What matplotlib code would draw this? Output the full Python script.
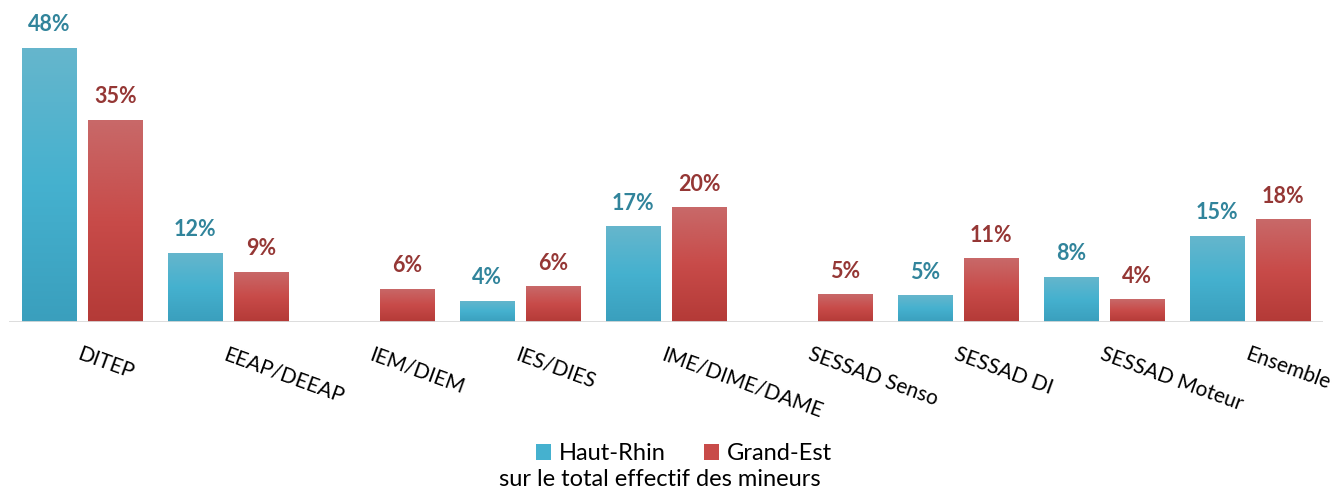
import numpy as np
import matplotlib
matplotlib.use("Agg")
import matplotlib.pyplot as plt
from matplotlib.colors import LinearSegmentedColormap
from matplotlib.patches import Patch

categories = ["DITEP", "EEAP/DEEAP", "IEM/DIEM", "IES/DIES", "IME/DIME/DAME",
              "SESSAD Senso", "SESSAD DI", "SESSAD Moteur", "Ensemble"]
haut_rhin = [48.0, 12.1, np.nan, 3.7, 16.8, np.nan, 4.7, 7.9, 15.1]
grand_est = [35.4, 8.8, 5.8, 6.3, 20.1, 4.9, 11.2, 4.0, 18.0]
series_names = ["Haut-Rhin", "Grand-Est"]
xlabel = "sur le total effectif des mineurs"

plt.rcParams['font.family'] = ['Lato', 'DejaVu Sans']

fig = plt.figure(figsize=(13.39, 4.95), dpi=100)
ax = fig.add_axes([9/1339, 1 - 322/495, 1314/1339, 322/495])

x = np.arange(len(categories))
w = 0.37
off = 0.228

blue_grad = ["#3A9FBD", "#45B1CF", "#66B6CC"]  # bottom -> top
red_grad = ["#B43A37", "#C84B49", "#C86969"]
blue_cmap = LinearSegmentedColormap.from_list("b", blue_grad)
red_cmap = LinearSegmentedColormap.from_list("r", red_grad)
label_cols = ["#31849B", "#953735"]

grad = np.linspace(0, 1, 256).reshape(-1, 1)

for vals, dx, cmap, lc in [(haut_rhin, -off, blue_cmap, label_cols[0]),
                           (grand_est, off, red_cmap, label_cols[1])]:
    v = np.array(vals, dtype=float)
    bars = ax.bar(x + dx, np.nan_to_num(v), width=w, color=cmap(0.5),
                  edgecolor='none', zorder=2)
    for b, val in zip(bars, v):
        if np.isnan(val):
            b.set_visible(False)
            continue
        x0, y0 = b.get_x(), b.get_y()
        im = ax.imshow(grad, cmap=cmap, origin='lower', aspect='auto',
                       extent=[x0, x0 + b.get_width(), y0, y0 + b.get_height()],
                       zorder=3)
        im.set_clip_path(b)
        ax.annotate(f"{val:.0f}%", (b.get_x() + b.get_width()/2, val),
                    xytext=(0, 9), textcoords='offset points',
                    ha='center', va='bottom', fontsize=15.5, fontweight='bold',
                    color=lc)

ax.set_xlim(-0.5, len(categories) - 0.5)
ax.set_ylim(0, 322/5.71)
ax.axhline(0, color='#D9D9D9', lw=2, zorder=4)

for s in ax.spines.values():
    s.set_visible(False)
ax.set_yticks([])
ax.set_xticks(x)
ax.set_xticklabels(categories, rotation=-20, ha='left', va='top',
                   rotation_mode='anchor', fontsize=15, color='black')
ax.tick_params(axis='x', length=0, pad=16)

handles = [Patch(facecolor=blue_cmap(0.5), edgecolor='none'),
           Patch(facecolor=red_cmap(0.5), edgecolor='none')]
fig.legend(handles, series_names, loc='center', bbox_to_anchor=(684/1339, 1 - 454/495),
           ncol=2, frameon=False, fontsize=17, handlelength=0.65, handleheight=0.65,
           handletextpad=0.35, columnspacing=1.6)
fig.text(660/1339, 1 - 479/495, xlabel, ha='center', va='center', fontsize=17)

fig.savefig("out.png", dpi=100)
